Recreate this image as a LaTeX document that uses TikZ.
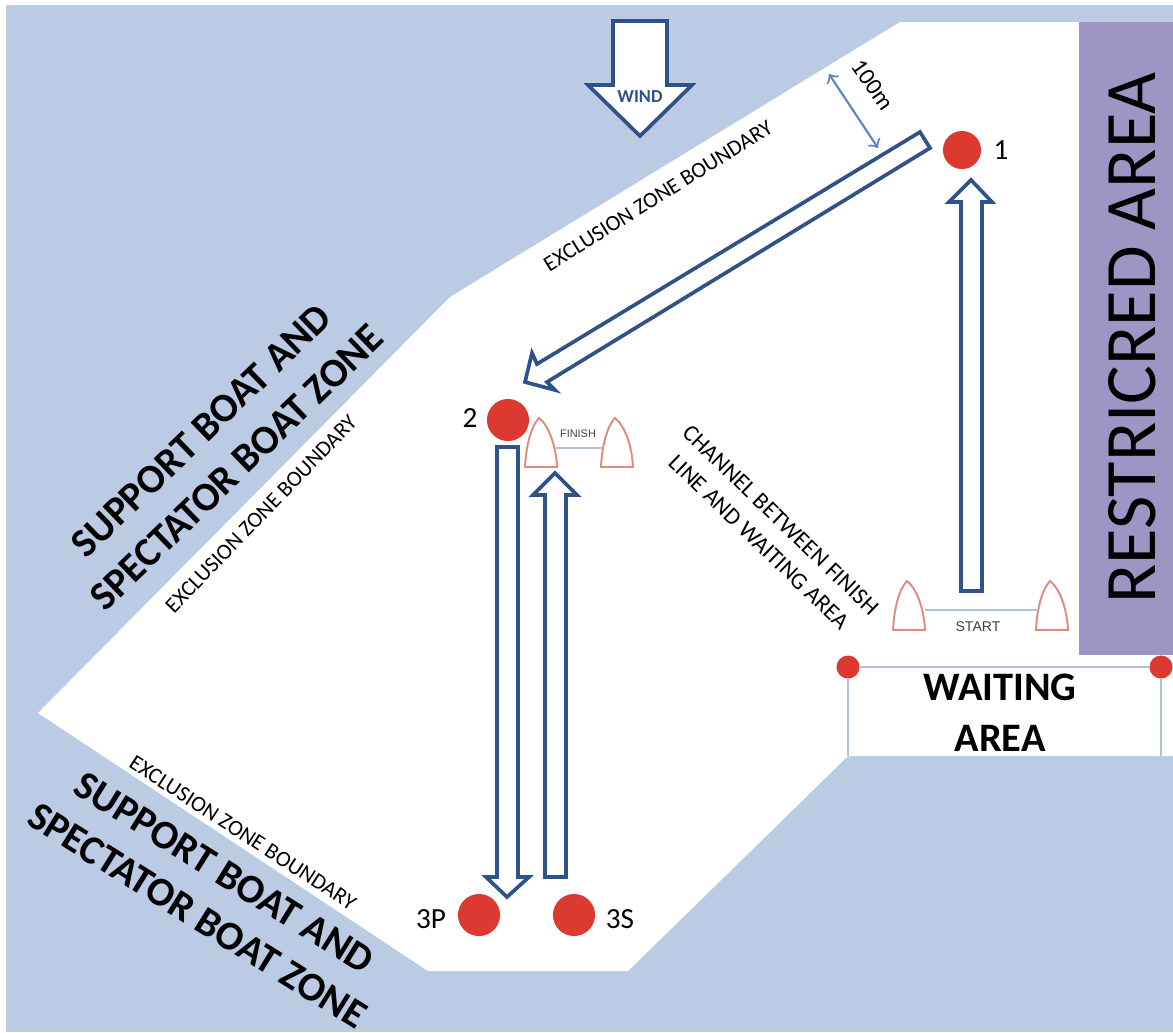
\documentclass[tikz,border=0pt]{standalone}
\usepackage{fontspec}
\setmainfont{Carlito}
\newfontfamily\arialfont{Liberation Sans}
\usepackage{xcolor}
\usepackage{tikz}
\definecolor{zoneblue}{HTML}{BBCBE3}
\definecolor{arrowblue}{HTML}{2F5288}
\definecolor{restrictpurple}{HTML}{9E95C5}
\definecolor{buoyred}{HTML}{DC3A30}
\definecolor{boatred}{HTML}{DE8C7E}
\definecolor{linkblue}{HTML}{AFC1DC}
\definecolor{rangeblue}{HTML}{5B84C0}
\tikzset{
  course/.style={draw=arrowblue, line width=1.05pt, fill=white, line join=miter},
  buoy/.style={circle, fill=buoyred, inner sep=0pt, minimum size=#1},
  boathull/.style={draw=boatred, line width=0.55pt, fill=white},
  linkline/.style={draw=linkblue, line width=0.65pt},
  zonelabel/.style={font=\fontsize{6.3}{8}\selectfont, inner sep=0pt},
  marklabel/.style={font=\fontsize{8.3}{10}\selectfont, inner sep=0pt},
  biglabel/.style={font=\fontsize{11.5}{14.5}\selectfont\bfseries, align=center, inner sep=0pt},
}

\begin{document}
\begin{tikzpicture}[x=0.01cm,y=-0.01cm]
\useasboundingbox (0,0) rectangle (1173,1032);

% WATER
  \fill[zoneblue] (6,5) rectangle (1173,1032);
  \fill[white] (900,22) -- (1173,22) -- (1173,756) -- (848,756) -- (628,971)
     -- (428,971) -- (38,713) -- (450,297) -- cycle;

% Restricted area
  \fill[restrictpurple] (1079,22) rectangle (1173,655);
  \node[rotate=90, font=\fontsize{20.6}{24}\selectfont, inner sep=0pt] (restricted) at (1132,338) {RESTRICRED AREA};

% Waiting area
  \node[buoy=23pt*0.285] (waitL) at (848,667) {};
  \node[buoy=23pt*0.285] (waitR) at (1161,667) {};
  \coordinate (waitLb) at (848,756);
  \coordinate (waitRb) at (1161,756);
  \draw[linkline] (waitL) -- (waitR);
  \draw[linkline] (waitL) -- (waitLb);
  \draw[linkline] (waitR) -- (waitRb);
  \node[biglabel] (waiting) at (1000,713) {WAITING\\AREA};

% Wind
  \draw[course] (613,21) -- (667,21) -- (667,85) -- (692,85) -- (640,136) -- (588,85) -- (613,85) -- cycle;
  \node[font=\fontsize{5.2}{7}\selectfont\bfseries, text=arrowblue, inner sep=0pt] (wind) at (640,97) {WIND};

% Course arrows
  \draw[course] (920,132) -- (930,148) -- (547,382) -- (555,390) -- (525,382) -- (532,353) -- (537,364) -- cycle;
  \draw[course] (961,591) -- (982,591) -- (982,202) -- (992,202) -- (971,180) -- (949,202) -- (961,202) -- cycle;
  \draw[course] (497,447) -- (518,447) -- (518,877) -- (529,877) -- (507,897) -- (486,877) -- (497,877) -- cycle;
  \draw[course] (545,877) -- (566,877) -- (566,495) -- (577,495) -- (555,473) -- (533,495) -- (545,495) -- cycle;

% Marks
  \node[buoy=38pt*0.285] (mark1) at (962,150) {};
  \node[buoy=42pt*0.285] (mark2) at (508,420) {};
  \node[buoy=42pt*0.285] (mark3P) at (479,915) {};
  \node[buoy=42pt*0.285] (mark3S) at (574,915) {};
  \node[marklabel] (lab1) at (1001,150) {1};
  \node[marklabel] (lab2) at (470,418) {2};
  \node[marklabel] (lab3P) at (431,919) {3P};
  \node[marklabel] (lab3S) at (620,919) {3S};

% Start and finish boats
  \foreach \bx/\by in {893/581, 1036/581, 525/418, 601/418}
    \draw[boathull, shift={(\bx,\by)}] (14,0) .. controls (24,8) and (31,28) .. (32,49) -- (0,49)
       .. controls (1,28) and (6,8) .. (14,0) -- cycle;
  \coordinate (startLe) at (925,610);
  \coordinate (startRe) at (1038,610);
  \coordinate (finishLe) at (556,448);
  \coordinate (finishRe) at (602,448);
  \draw[linkline] (startLe) -- (startRe);
  \draw[linkline] (finishLe) -- (finishRe);
  \node[font=\fontsize{4}{5}\selectfont\arialfont, text=black!75, inner sep=0pt] (start) at (978,627) {START};
  \node[font=\fontsize{3.1}{4}\selectfont\arialfont, text=black!75, inner sep=0pt] (finish) at (578,434) {FINISH};

% 100m range
  \coordinate (rangeA) at (829,74);
  \coordinate (rangeB) at (878,148);
  \draw[rangeblue, line width=0.6pt, <->] (rangeA) -- (rangeB);
  \node[rotate=-55, font=\fontsize{6.8}{8}\selectfont, inner sep=0pt] (range) at (873,85) {100m};

% Boundary labels
  \node[zonelabel, rotate=32] (boundTop) at (658,196) {EXCLUSION ZONE BOUNDARY};
  \node[zonelabel, rotate=46] (boundLeft) at (261,514) {EXCLUSION ZONE BOUNDARY};
  \node[zonelabel, rotate=-33] (boundBot) at (243,833) {EXCLUSION ZONE BOUNDARY};

% Zone labels
  \node[biglabel, rotate=44] (zoneLeft) at (219,449) {SUPPORT BOAT AND\\SPECTATOR BOAT ZONE};
  \node[biglabel, rotate=-32] (zoneBot) at (211,894) {SUPPORT BOAT AND\\SPECTATOR BOAT ZONE};
  \node[zonelabel, rotate=-44, align=center, font=\fontsize{6.7}{8.8}\selectfont] (channel) at (770,531) {CHANNEL BETWEEN FINISH\\LINE AND WAITING AREA};
\end{tikzpicture}
\end{document}
